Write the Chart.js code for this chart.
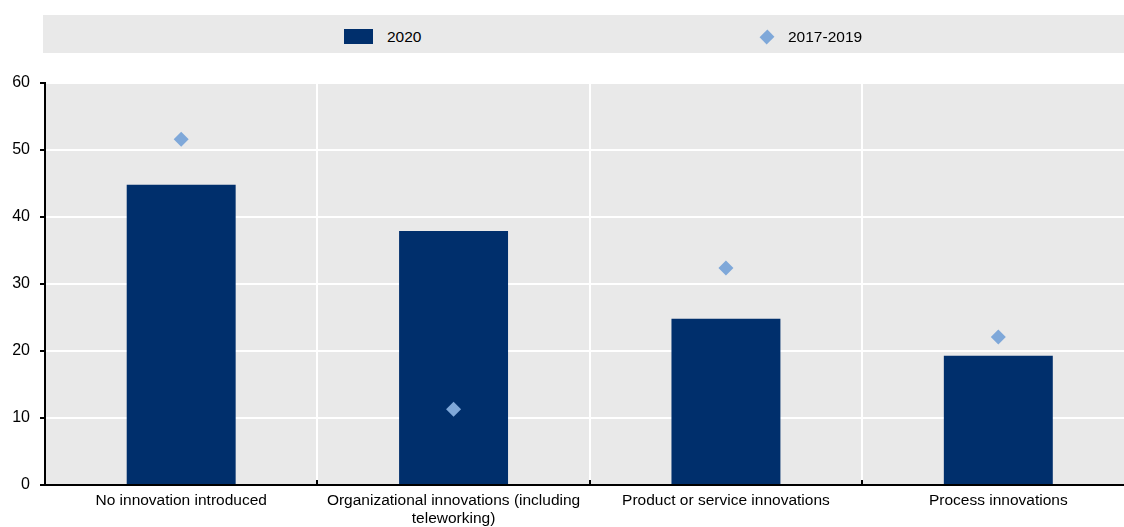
<!DOCTYPE html>
<html lang="en">
<head>
    <meta charset="UTF-8">
    <title>Innovation types</title>
    <script src="https://cdn.jsdelivr.net/npm/chart.js"></script>
    <style>
        html, body { margin: 0; padding: 0; background: #fff; overflow: hidden; }
        body { width: 1124px; height: 527px; position: relative; font-family: Arial, "Liberation Sans", sans-serif; }
        #legend {
            position: absolute; left: 43px; top: 15px; width: 1100px; height: 38px;
            background: #e9e9e9; z-index: 2;
        }
        .item { position: absolute; top: 3px; height: 38px; line-height: 38px; font-size: 15.5px; color: #000; }
        .swatch { position: absolute; left: 301px; top: 14px; width: 29px; height: 15px; background: #002f6c; }
        .diamond { position: absolute; left: 719px; top: 17px; width: 10px; height: 10px; background: #7fa8d9; transform: rotate(45deg) scaleY(1.1); }
        #chart { position: absolute; left: 0; top: 0; }
    </style>
</head>
<body>
    <div id="legend">
        <div class="swatch"></div>
        <div class="item" style="left:344px">2020</div>
        <div class="diamond"></div>
        <div class="item" style="left:745px">2017-2019</div>
    </div>
    <canvas id="chart" width="1142" height="527"></canvas>

    <script>
        // data
        const categories = [
            "No innovation introduced",
            ["Organizational innovations (including", "teleworking)"],
            "Product or service innovations",
            "Process innovations"
        ];
        const values2020 = [44.8, 37.9, 24.8, 19.3];
        const values2017_2019 = [51.6, 11.3, 32.4, 22.1];
        const yTicks = [0, 10, 20, 30, 40, 50, 60];

        const plotBg = {
            id: "plotBg",
            beforeDraw(chart) {
                const a = chart.chartArea, ctx = chart.ctx;
                ctx.save();
                ctx.fillStyle = "#e9e9e9";
                ctx.fillRect(a.left, a.top, a.right - a.left, a.bottom - a.top);
                ctx.restore();
            },
            afterDraw(chart) {
                // small upward ticks on the x axis at category boundaries
                const x = chart.scales.x, a = chart.chartArea, ctx = chart.ctx;
                ctx.save();
                ctx.strokeStyle = "#000";
                ctx.lineWidth = 2;
                for (let i = 1; i < categories.length; i++) {
                    const px = Math.round((x.getPixelForValue(i - 1) + x.getPixelForValue(i)) / 2);
                    ctx.beginPath();
                    ctx.moveTo(px, a.bottom);
                    ctx.lineTo(px, a.bottom - 5);
                    ctx.stroke();
                }
                ctx.restore();
            }
        };

        new Chart(document.getElementById("chart"), {
            data: {
                labels: categories,
                datasets: [
                    {
                        type: "line",
                        label: "2017-2019",
                        data: values2017_2019,
                        showLine: false,
                        pointStyle: "rectRot",
                        pointRadius: 7.5,
                        pointBorderWidth: 0,
                        pointBackgroundColor: "#7fa8d9",
                        borderColor: "#7fa8d9",
                        order: 0
                    },
                    {
                        type: "bar",
                        label: "2020",
                        data: values2020,
                        backgroundColor: "#002f6c",
                        categoryPercentage: 1,
                        barPercentage: 0.4,
                        order: 1
                    }
                ]
            },
            options: {
                responsive: false,
                animation: false,
                devicePixelRatio: 1,
                layout: { padding: { top: 83, left: 0, right: 0, bottom: 0 } },
                plugins: { legend: { display: false }, tooltip: { enabled: false } },
                scales: {
                    x: {
                        offset: true,
                        grid: { offset: true, color: "#ffffff", lineWidth: 2, tickLength: 0 },
                        border: { color: "#000", width: 2 },
                        ticks: {
                            color: "#000",
                            font: { family: "Arial, 'Liberation Sans', sans-serif", size: 15.5 },
                            padding: 6,
                            maxRotation: 0,
                            autoSkip: false
                        },
                        afterFit(scale) { scale.height = 42; }
                    },
                    y: {
                        min: 0,
                        max: 60,
                        afterBuildTicks(scale) { scale.ticks = yTicks.map(v => ({ value: v })); },
                        grid: { color: "#ffffff", lineWidth: 2, tickColor: "#000", tickLength: 5 },
                        border: { color: "#000", width: 2 },
                        ticks: {
                            color: "#000",
                            font: { family: "Arial, 'Liberation Sans', sans-serif", size: 16 },
                            padding: 10
                        },
                        afterFit(scale) { scale.width = 45; }
                    }
                }
            },
            plugins: [plotBg]
        });
    </script>
</body>
</html>
